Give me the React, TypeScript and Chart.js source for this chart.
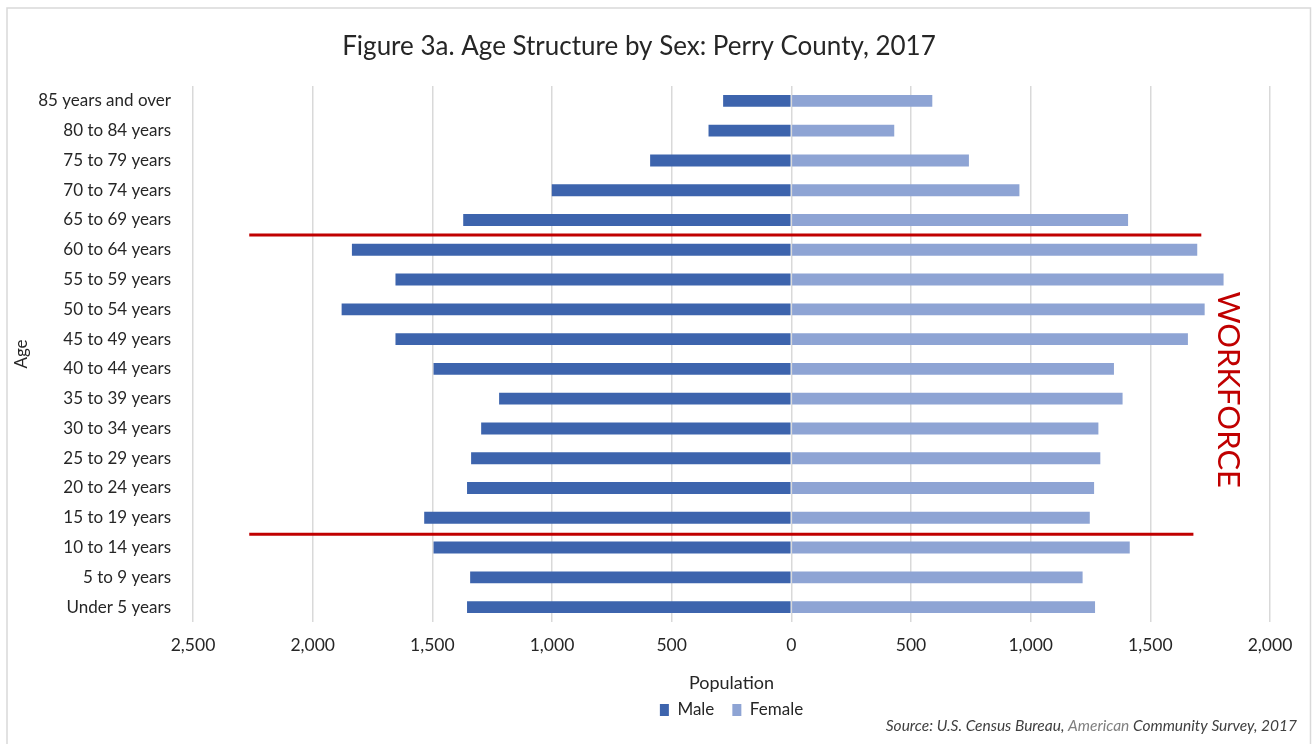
import React, { useEffect, useRef } from "react";
import { Chart, registerables } from "chart.js";

Chart.register(...registerables);

const FONT = "Lato";

const categories = [
  "85 years and over",
  "80 to 84 years",
  "75 to 79 years",
  "70 to 74 years",
  "65 to 69 years",
  "60 to 64 years",
  "55 to 59 years",
  "50 to 54 years",
  "45 to 49 years",
  "40 to 44 years",
  "35 to 39 years",
  "30 to 34 years",
  "25 to 29 years",
  "20 to 24 years",
  "15 to 19 years",
  "10 to 14 years",
  "5 to 9 years",
  "Under 5 years",
];

const maleValues = [285, 346, 590, 1001, 1371, 1836, 1654, 1879, 1654, 1495, 1221, 1296, 1338, 1355, 1534, 1495, 1342, 1355];
const femaleValues = [589, 430, 742, 953, 1407, 1696, 1806, 1727, 1657, 1348, 1384, 1283, 1291, 1265, 1247, 1414, 1217, 1269];

const xMin = -2500;
const xMax = 2000;
const xStep = 500;

const titleText = "Figure 3a. Age Structure by Sex: Perry County, 2017";
const workforceLabel = "WORKFORCE";
// annotation lines in data units (x value range, y category position)
const workforceLines = [
  { y: 4.5, xFrom: -2265, xTo: 1713 },
  { y: 14.55, xFrom: -2265, xTo: 1680 },
];
const workforceTextX = 1825;
const workforceTextY = 9.7;
const sourceParts = [
  { text: "Source: U.S. Census Bureau, ", color: "#404040" },
  { text: "American", color: "#808080" },
  { text: " Community Survey, 2017", color: "#404040" },
];

const TEXT = "#262626";

const overlayPlugin = {
  id: "overlay",
  beforeDraw(chart: any) {
    const ctx = chart.ctx;
    ctx.save();
    ctx.fillStyle = "#ffffff";
    ctx.fillRect(0, 0, chart.width, chart.height);
    ctx.strokeStyle = "#d9d9d9";
    ctx.lineWidth = 1.5;
    ctx.strokeRect(7, 8, 1303.5, 800);
    ctx.restore();
  },
  afterDatasetsDraw(chart: any) {
    const ctx = chart.ctx;
    const xs = chart.scales.x;
    const ys = chart.scales.y;
    ctx.save();
    ctx.strokeStyle = "#C00000";
    ctx.lineWidth = 3;
    for (const l of workforceLines) {
      const y = ys.getPixelForValue(l.y);
      ctx.beginPath();
      ctx.moveTo(xs.getPixelForValue(l.xFrom), y);
      ctx.lineTo(xs.getPixelForValue(l.xTo), y);
      ctx.stroke();
    }
    const tx = xs.getPixelForValue(workforceTextX);
    const ty = ys.getPixelForValue(workforceTextY);
    ctx.translate(tx, ty);
    ctx.rotate(Math.PI / 2);
    ctx.fillStyle = "#C00000";
    ctx.font = `31px ${FONT}`;
    ctx.textAlign = "center";
    ctx.textBaseline = "middle";
    ctx.fillText(workforceLabel, 0, 0);
    ctx.restore();
  },
  afterDraw(chart: any) {
    const ctx = chart.ctx;
    ctx.save();
    ctx.font = `italic 15.5px ${FONT}`;
    ctx.textBaseline = "middle";
    ctx.textAlign = "left";
    const total = sourceParts.reduce((s, p) => s + ctx.measureText(p.text).width, 0);
    let x = 1297 - total;
    for (const p of sourceParts) {
      ctx.fillStyle = p.color;
      ctx.fillText(p.text, x, 726);
      x += ctx.measureText(p.text).width;
    }
    ctx.restore();
  },
};

export default function App() {
  const canvasRef = useRef<HTMLCanvasElement | null>(null);

  useEffect(() => {
    document.body.style.margin = "0";
    const canvas = canvasRef.current;
    if (!canvas) return;
    const chart = new Chart(canvas, {
      type: "bar",
      data: {
        labels: categories,
        datasets: [
          {
            label: "Male",
            data: maleValues.map((v) => -v),
            backgroundColor: "#3D64AD",
            borderWidth: 0,
            barPercentage: 0.8,
            categoryPercentage: 0.5,
          },
          {
            label: "Female",
            data: femaleValues,
            backgroundColor: "#8EA4D4",
            borderWidth: 0,
            barPercentage: 0.8,
            categoryPercentage: 0.5,
          },
        ],
      },
      options: {
        indexAxis: "y",
        responsive: false,
        animation: false,
        maintainAspectRatio: false,
        layout: { padding: { left: 8, right: 42, top: 0, bottom: 15.5 } },
        scales: {
          x: {
            type: "linear",
            stacked: true,
            min: xMin,
            max: xMax,
            ticks: {
              stepSize: xStep,
              padding: 12.5,
              color: TEXT,
              font: { family: FONT, size: 17.5 },
              callback: (v: any) => Math.abs(Number(v)).toLocaleString("en-US"),
            },
            grid: { color: "#d9d9d9", lineWidth: 1.5, drawTicks: false },
            border: { display: false },
            title: {
              display: true,
              text: "Population",
              color: TEXT,
              font: { family: FONT, size: 18 },
              padding: { top: 4.2, bottom: -10.3 },
            },
          },
          y: {
            type: "category",
            stacked: true,
            grid: { display: false },
            border: { display: false },
            ticks: {
              padding: 14,
              color: TEXT,
              font: { family: FONT, size: 17 },
            },
            title: {
              display: true,
              text: "Age",
              color: TEXT,
              font: { family: FONT, size: 17 },
              padding: { top: 3.8, bottom: 0 },
            },
            afterFit: (scale: any) => {
              scale.width = 185;
            },
          },
        },
        plugins: {
          title: {
            display: true,
            text: titleText,
            color: TEXT,
            font: { family: FONT, size: 26, weight: "normal" },
            padding: { top: 31.4, bottom: 23.4 },
          },
          legend: {
            display: true,
            position: "bottom",
            fullSize: false,
            labels: {
              color: TEXT,
              font: { family: FONT, size: 17 },
              boxWidth: 9,
              boxHeight: 12,
              padding: 18,
            },
          },
          tooltip: { enabled: false },
        },
      },
      plugins: [overlayPlugin],
    });
    return () => chart.destroy();
  }, []);

  return (
    <div style={{ position: "fixed", left: 0, top: 0, width: 1312, height: 744, overflow: "hidden", background: "#fff" }}>
      <canvas ref={canvasRef} width={1312} height={744} style={{ width: 1312, height: 744, display: "block" }} />
    </div>
  );
}
